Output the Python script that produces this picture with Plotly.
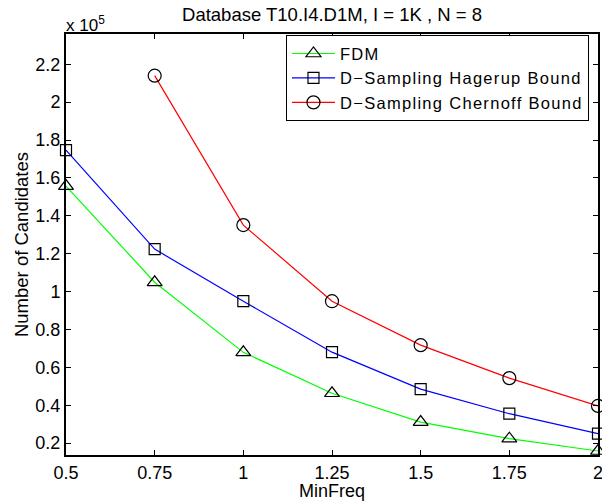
import plotly.graph_objects as go

min_freq = [0.5, 0.75, 1.0, 1.25, 1.5, 1.75, 2.0]
fdm = [1.557, 1.049, 0.679, 0.463, 0.311, 0.223, 0.158]
hagerup = [1.747, 1.224, 0.949, 0.680, 0.485, 0.355, 0.250]
chernoff = [None, 2.14, 1.351, 0.949, 0.717, 0.543, 0.396]
series_names = ["FDM", "D\u2212Sampling Hagerup Bound", "D\u2212Sampling Chernoff Bound"]

x_tickvals = [0.5, 0.75, 1, 1.25, 1.5, 1.75, 2]
x_ticktext = ["0.5", "0.75", "1", "1.25", "1.5", "1.75", "2"]
y_tickvals = [0.2, 0.4, 0.6, 0.8, 1.0, 1.2, 1.4, 1.6, 1.8, 2.0, 2.2]
y_ticktext = ["0.2", "0.4", "0.6", "0.8", "1", "1.2", "1.4", "1.6", "1.8", "2", "2.2"]

FONT = "Liberation Sans, Arial, Helvetica, sans-serif"

fig = go.Figure()
styles = [
    ("#00ff00", "triangle-up-open", 13),
    ("#0000ff", "square-open", 11),
    ("#ff0000", "circle-open", 13),
]
for name, ys, (col, sym, sz) in zip(series_names, [fdm, hagerup, chernoff], styles):
    fig.add_trace(go.Scatter(
        x=min_freq, y=ys, mode="lines+markers",
        name="<span style='letter-spacing:1.3px'>" + name + "</span>",
        line=dict(color=col, width=1.2),
        marker=dict(symbol=sym, color="black", size=sz, line=dict(width=1.2, color="black")),
        cliponaxis=False,
    ))

axis_common = dict(
    showline=True, linecolor="black", linewidth=2, mirror="ticks",
    ticks="inside", ticklen=5, tickcolor="black", tickwidth=1,
    showgrid=False, zeroline=False, automargin=False,
    ticklabeloverflow="allow",
    tickfont=dict(family=FONT, size=18, color="black"),
)

fig.update_layout(
    width=602, height=501,
    margin=dict(l=66, r=4, t=34, b=46),
    paper_bgcolor="white", plot_bgcolor="white",
    font=dict(family=FONT, color="black"),
    title=dict(text="Database T10.I4.D1M, I = 1K , N = 8", x=0.5515, xanchor="center",
               y=0.972, yanchor="middle", font=dict(size=18.5, family=FONT)),
    xaxis=dict(range=[0.5, 2.0], tickvals=x_tickvals, ticktext=x_ticktext,
               title=dict(text="MinFreq", font=dict(size=18, family=FONT), standoff=0),
               **axis_common),
    yaxis=dict(range=[0.137, 2.36], tickvals=y_tickvals, ticktext=y_ticktext,
               title=dict(text="Number of Candidates", font=dict(size=18.5, family=FONT), standoff=2),
               **axis_common),
    legend=dict(x=0.4135, y=0.997, xanchor="left", yanchor="top",
                bordercolor="black", borderwidth=1, bgcolor="white",
                font=dict(size=16.5, family=FONT), tracegroupgap=0,
                itemwidth=43),
    showlegend=True,
)

fig.add_annotation(xref="paper", yref="paper", x=0, y=1.0, xanchor="left", yanchor="bottom",
                   text="x 10<sup>5</sup>", showarrow=False,
                   font=dict(size=17, family=FONT, color="black"), yshift=-3, xshift=-2)

fig.write_html("out.html", config={"displayModeBar": False},
               post_script="document.body.style.margin='0';document.body.style.padding='0';")
